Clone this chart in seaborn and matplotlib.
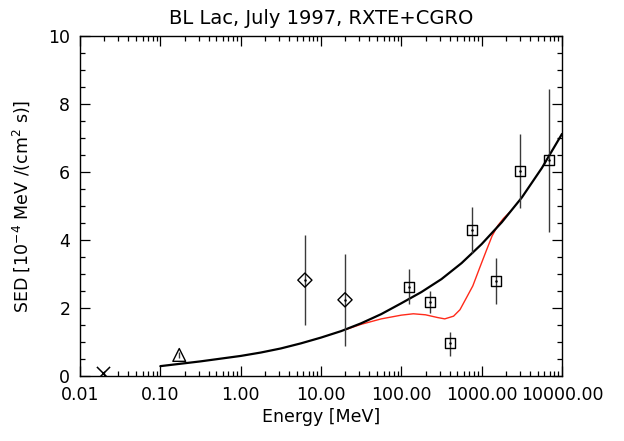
import numpy as np
import pandas as pd
import matplotlib
matplotlib.use("Agg")
import matplotlib.pyplot as plt
import matplotlib.ticker as mticker
import seaborn as sns

# ---- data ----
# model curves (energy in MeV, SED in 1e-4 MeV/(cm^2 s))
black_x = [0.1, 0.316, 1.0, 1.78, 3.16, 5.62, 10.0, 17.8, 31.6, 56.2, 100.0,
           178.0, 316.0, 562.0, 1000.0, 1778.0, 3162.0, 5623.0, 10000.0]
black_y = [0.29, 0.43, 0.59, 0.69, 0.81, 0.96, 1.13, 1.32, 1.55, 1.82, 2.14,
           2.47, 2.85, 3.32, 3.88, 4.52, 5.25, 6.12, 7.12]

red_x = [19.95, 31.6, 56.2, 100.0, 141.0, 200.0, 282.0, 347.0, 447.0, 537.0,
         646.0, 776.0, 944.0, 1148.0, 1349.0, 1585.0, 1862.0, 2239.0]
red_y = [1.36, 1.52, 1.68, 1.79, 1.83, 1.80, 1.72, 1.68, 1.76, 1.95, 2.30,
         2.65, 3.18, 3.70, 4.12, 4.42, 4.63, 4.82]

# X point
cross_x = [0.0195]
cross_y = [0.08]

# triangle point
tri_x = [0.172]
tri_y = [0.62]
tri_lo = [0.53]
tri_hi = [0.71]

# diamonds
dia_x = [6.3, 19.9]
dia_y = [2.82, 2.24]
dia_lo = [1.50, 0.88]
dia_hi = [4.15, 3.59]

# squares
sq_x = [125.0, 225.0, 400.0, 752.0, 1496.0, 3000.0, 6950.0]
sq_y = [2.63, 2.19, 0.97, 4.29, 2.79, 6.03, 6.35]
sq_lo = [2.12, 1.85, 0.59, 3.62, 2.12, 4.94, 4.24]
sq_hi = [3.15, 2.50, 1.29, 4.97, 3.47, 7.12, 8.43]

xtick_vals = [0.01, 0.1, 1, 10, 100, 1000, 10000]
xtick_labels = ["0.01", "0.10", "1.00", "10.00", "100.00", "1000.00", "10000.00"]
ytick_vals = [0, 2, 4, 6, 8, 10]

title = "BL Lac, July 1997, RXTE+CGRO"
xlabel = "Energy [MeV]"
ylabel = r"SED [10$^{-4}$ MeV /(cm$^{2}$ s)]"

# ---- plotting ----
sns.set_theme(style="ticks")
plt.rcParams["font.family"] = ["DejaVu Sans"]
plt.rcParams["mathtext.fontset"] = "dejavusans"

fig = plt.figure(figsize=(6.24, 4.41), dpi=100)
ax = fig.add_axes([80 / 624, 1 - 376 / 441, (562 - 80) / 624, (376 - 36) / 441])
ax.set_facecolor("white")
fig.patch.set_facecolor("white")

df_black = pd.DataFrame({"x": black_x, "y": black_y})
df_red = pd.DataFrame({"x": red_x, "y": red_y})

sns.lineplot(data=df_red, x="x", y="y", ax=ax, color="#ff2a1a", lw=1.0,
             sort=False, estimator=None, zorder=3)
sns.lineplot(data=df_black, x="x", y="y", ax=ax, color="black", lw=1.6,
             sort=False, estimator=None, zorder=4)

err_col = "#3a3a3a"
ax.vlines(tri_x, tri_lo, tri_hi, color=err_col, lw=1.0, zorder=5)
ax.vlines(dia_x, dia_lo, dia_hi, color=err_col, lw=1.0, zorder=5)
ax.vlines(sq_x, sq_lo, sq_hi, color=err_col, lw=1.0, zorder=5)

df_sq = pd.DataFrame({"x": sq_x, "y": sq_y})
df_dia = pd.DataFrame({"x": dia_x, "y": dia_y})
df_tri = pd.DataFrame({"x": tri_x, "y": tri_y})
df_cross = pd.DataFrame({"x": cross_x, "y": cross_y})

sns.scatterplot(data=df_sq, x="x", y="y", ax=ax, marker="s", s=52,
                facecolor="none", edgecolor="black", linewidth=1.0, zorder=6)
sns.scatterplot(data=df_dia, x="x", y="y", ax=ax, marker="D", s=52,
                facecolor="none", edgecolor="black", linewidth=1.0, zorder=6)
sns.scatterplot(data=df_tri, x="x", y="y", ax=ax, marker="^", s=85,
                facecolor="none", edgecolor="black", linewidth=1.0, zorder=6)
sns.scatterplot(data=df_cross, x="x", y="y", ax=ax, marker="x", s=90,
                color="black", linewidth=1.1, zorder=6)
# small centre dots
ax.scatter(sq_x + dia_x, sq_y + dia_y, s=0.6, color="black", zorder=7)

ax.set_xscale("log")
ax.set_xlim(0.01, 10000)
ax.set_ylim(0, 10)
ax.set_xticks(xtick_vals)
ax.set_xticklabels(xtick_labels)
ax.xaxis.set_minor_locator(mticker.LogLocator(base=10, subs=np.arange(2, 10), numticks=20))
ax.xaxis.set_minor_formatter(mticker.NullFormatter())
ax.set_yticks(ytick_vals)
ax.set_yticklabels([str(v) for v in ytick_vals])
ax.yaxis.set_minor_locator(mticker.MultipleLocator(0.5))

ax.tick_params(which="both", direction="in", top=True, right=True,
               colors="black", labelsize=12.5, width=0.9)
ax.tick_params(which="major", length=7, pad=7)
ax.tick_params(which="minor", length=3.5)
for sp in ax.spines.values():
    sp.set_visible(True)
    sp.set_color("black")
    sp.set_linewidth(1.0)

ax.set_title(title, fontsize=14, pad=9, color="black")
ax.set_xlabel(xlabel, fontsize=12.5, labelpad=3, color="black")
ax.set_ylabel(ylabel, fontsize=12.5, labelpad=12, color="black")

fig.savefig("out.png", dpi=100, facecolor="white")
